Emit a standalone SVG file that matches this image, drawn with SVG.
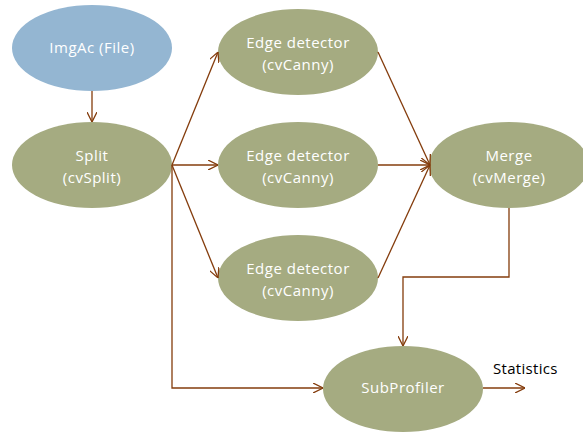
<svg xmlns="http://www.w3.org/2000/svg" width="583" height="433" viewBox="0 0 583 433">
<style>
.n{fill:#A5AB81}
.b{fill:#94B6D2}
.t{fill:#fff;font-family:"Open Sans","Liberation Sans",sans-serif;font-size:15px;letter-spacing:0.5px;text-anchor:middle}
.c{fill:none;stroke:#843C0C;stroke-width:1.3}
.s{fill:#000;font-family:"Open Sans","Liberation Sans",sans-serif;font-size:15px;letter-spacing:0.3px}
</style>
<defs>
<marker id="a" viewBox="0 0 10 10" refX="10" refY="5" markerWidth="10" markerHeight="10" markerUnits="userSpaceOnUse" orient="auto">
<path d="M0,0 L10,5 L0,10" fill="none" stroke="#843C0C" stroke-width="1.3"/>
</marker>
</defs>
<g id="imgac"><ellipse class="b" cx="92" cy="48" rx="80" ry="43"/><text class="t" x="92" y="53">ImgAc (File)</text></g>
<g id="split"><ellipse class="n" cx="92" cy="165" rx="80" ry="43"/><text class="t" x="92" y="161">Split</text><text class="t" x="92" y="183">(cvSplit)</text></g>
<g id="edge1"><ellipse class="n" cx="298" cy="52" rx="80" ry="43"/><text class="t" x="298" y="48">Edge detector</text><text class="t" x="298" y="70">(cvCanny)</text></g>
<g id="edge2"><ellipse class="n" cx="298" cy="165" rx="80" ry="43"/><text class="t" x="298" y="161">Edge detector</text><text class="t" x="298" y="183">(cvCanny)</text></g>
<g id="edge3"><ellipse class="n" cx="298" cy="278" rx="80" ry="43"/><text class="t" x="298" y="274">Edge detector</text><text class="t" x="298" y="296">(cvCanny)</text></g>
<g id="merge"><ellipse class="n" cx="509" cy="165" rx="80" ry="43"/><text class="t" x="509" y="161">Merge</text><text class="t" x="509" y="183">(cvMerge)</text></g>
<g id="subprofiler"><ellipse class="n" cx="403" cy="389" rx="80" ry="43"/><text class="t" x="403" y="393">SubProfiler</text></g>
<g id="connectors">
<path class="c" d="M92,91 V122" marker-end="url(#a)"/>
<path class="c" d="M172,165 L218,52" marker-end="url(#a)"/>
<path class="c" d="M172,165 H218" marker-end="url(#a)"/>
<path class="c" d="M172,165 L218,278" marker-end="url(#a)"/>
<path class="c" d="M172,165 V388 H323" marker-end="url(#a)"/>
<path class="c" d="M378,52 L430,165" marker-end="url(#a)"/>
<path class="c" d="M378,165 H430" marker-end="url(#a)"/>
<path class="c" d="M378,278 L430,165" marker-end="url(#a)"/>
<path class="c" d="M509,208 V277 H403 V346" marker-end="url(#a)"/>
<path class="c" d="M483,388 H525" marker-end="url(#a)"/>
</g>
<text class="s" x="493" y="374">Statistics</text>
</svg>
